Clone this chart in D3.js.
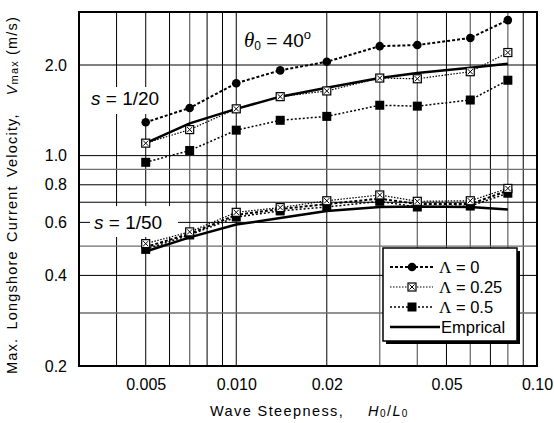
<!DOCTYPE html>
<html>
<head>
<meta charset="utf-8">
<script src="https://cdn.jsdelivr.net/npm/d3@7"></script>
<style>
body { margin: 0; background: #fff; }
svg { display: block; font-family: "Liberation Sans", Arial, sans-serif; }
</style>
</head>
<body>
<svg id="chart" width="554" height="423"></svg>
<script>
// wave steepness H0/L0 of each run
const steepness = [0.005, 0.007, 0.010, 0.014, 0.020, 0.030, 0.040, 0.060, 0.080];

// slope s = 1/20, Vmax (m/s)
const s20Lambda0   = [1.29, 1.44, 1.74, 1.92, 2.05, 2.31, 2.33, 2.46, 2.82];
const s20Lambda025 = [1.10, 1.22, 1.43, 1.57, 1.64, 1.81, 1.80, 1.90, 2.20];
const s20Lambda05  = [0.95, 1.04, 1.215, 1.31, 1.35, 1.47, 1.46, 1.53, 1.78];
const s20Empirical = [1.10, 1.28, 1.43, 1.57, 1.68, 1.81, 1.88, 1.96, 2.02];

// slope s = 1/50, Vmax (m/s)
const s50Lambda0   = [0.497, 0.550, 0.635, 0.665, 0.690, 0.720, 0.690, 0.690, 0.765];
const s50Lambda025 = [0.510, 0.558, 0.648, 0.672, 0.708, 0.740, 0.705, 0.708, 0.778];
const s50Lambda05  = [0.488, 0.545, 0.625, 0.655, 0.675, 0.705, 0.675, 0.680, 0.750];
const s50Empirical = [0.480, 0.535, 0.590, 0.620, 0.655, 0.675, 0.678, 0.675, 0.662];

const xTickValues = [0.005, 0.01, 0.02, 0.05, 0.1];
const xTickLabels = ["0.005", "0.010", "0.02", "0.05", "0.10"];
const yTickValues = [0.2, 0.4, 0.6, 0.8, 1.0, 2.0];
const yTickLabels = ["0.2", "0.4", "0.6", "0.8", "1.0", "2.0"];

// legend entries: [symbol part, rest]
const seriesNames = [["\u039B", " = 0"], ["\u039B", " = 0.25"], ["\u039B", " = 0.5"], ["", "Emprical"]];

const svg = d3.select("#chart");
const margin = { top: 12, right: 17, bottom: 57, left: 79 };
const W = 554, H = 423;

const x = d3.scaleLog().domain([0.003, 0.1]).range([margin.left, W - margin.right]);
const y = d3.scaleLog().domain([0.2, 3.0]).range([H - margin.bottom, margin.top]);

// line styles for each series
const styles = [
    { width: 2,   dash: "3,2",     marker: "circle" },
    { width: 1.2, dash: "1.5,1.5", marker: "cross" },
    { width: 1.5, dash: "2,2",     marker: "square" },
    { width: 2.5, dash: null,      marker: null }
];

// grid lines
const grid = svg.append("g");
const near = (a, b) => Math.abs(a - b) / b < 1e-6;
x.ticks().filter(t => t > 0.0031 && t < 0.099).forEach(t => {
    const gray = steepness.some(s => near(s, t)) && !xTickValues.some(s => near(s, t));
    grid.append("line")
        .attr("x1", x(t)).attr("x2", x(t))
        .attr("y1", y.range()[1]).attr("y2", y.range()[0])
        .attr("stroke", gray ? "#6e6e6e" : "#000")
        .attr("stroke-width", gray ? 1.3 : 1);
});
y.ticks().filter(t => t > 0.21 && t < 2.9).forEach(t => {
    const gray = [0.3, 0.5, 0.9].some(s => near(s, t));
    grid.append("line")
        .attr("x1", x.range()[0]).attr("x2", x.range()[1])
        .attr("y1", y(t)).attr("y2", y(t))
        .attr("stroke", gray ? "#6e6e6e" : "#000")
        .attr("stroke-width", gray ? 1.3 : 1);
});

// axes (labels only, frame drawn below)
const xAxis = svg.append("g")
    .attr("transform", `translate(0, ${y.range()[0]})`)
    .call(d3.axisBottom(x).tickValues(xTickValues).tickSize(0).tickPadding(13)
        .tickFormat((d, i) => xTickLabels[i]));
const yAxis = svg.append("g")
    .attr("transform", `translate(${x.range()[0]}, 0)`)
    .call(d3.axisLeft(y).tickValues(yTickValues).tickSize(0).tickPadding(12)
        .tickFormat((d, i) => yTickLabels[i]));
[xAxis, yAxis].forEach(a => {
    a.select(".domain").remove();
    a.selectAll("text").attr("font-size", 16).attr("fill", "#000")
        .attr("font-family", "'Liberation Sans', Arial, sans-serif");
});

// annotations
svg.append("rect").attr("x", 88).attr("y", 87).attr("width", 78).attr("height", 27).attr("fill", "#fff");
const s20Text = svg.append("text").attr("x", 91).attr("y", 105).attr("font-size", 19);
s20Text.append("tspan").attr("font-style", "italic").text("s");
s20Text.append("tspan").text(" = 1/20");

svg.append("rect").attr("x", 90).attr("y", 206).attr("width", 88).attr("height", 31).attr("fill", "#fff");
const s50Text = svg.append("text").attr("x", 94).attr("y", 229).attr("font-size", 19);
s50Text.append("tspan").attr("font-style", "italic").text("s");
s50Text.append("tspan").text(" = 1/50");

const theta = svg.append("text").attr("x", 244).attr("y", 47).attr("font-size", 19);
theta.append("tspan").attr("font-family", "'Liberation Serif', 'Times New Roman', serif")
    .attr("font-style", "italic").attr("font-size", 21).text("\u03B8");
theta.append("tspan").attr("font-size", 12).attr("dy", 3).text("0");
theta.append("tspan").attr("dy", -3).text(" = 40");
theta.append("tspan").attr("font-size", 13).attr("dy", -8).text("o");

// frame
svg.append("rect")
    .attr("x", x.range()[0]).attr("y", y.range()[1])
    .attr("width", x.range()[1] - x.range()[0])
    .attr("height", y.range()[0] - y.range()[1])
    .attr("fill", "none").attr("stroke", "#000").attr("stroke-width", 2);

function drawMarker(g, type, cx, cy) {
    if (type === "circle") {
        g.append("circle").attr("cx", cx).attr("cy", cy).attr("r", 4.3).attr("fill", "#000");
    } else if (type === "square") {
        g.append("rect").attr("x", cx - 4.5).attr("y", cy - 4.5).attr("width", 9).attr("height", 9).attr("fill", "#000");
    } else if (type === "cross") {
        g.append("rect").attr("x", cx - 4).attr("y", cy - 4).attr("width", 8).attr("height", 8)
            .attr("fill", "#fff").attr("stroke", "#000").attr("stroke-width", 1.2);
        g.append("path").attr("d", `M${cx - 2.6},${cy - 2.6}L${cx + 2.6},${cy + 2.6}M${cx + 2.6},${cy - 2.6}L${cx - 2.6},${cy + 2.6}`)
            .attr("stroke", "#000").attr("stroke-width", 1);
    }
}

const line = d3.line().x(d => x(d[0])).y(d => y(d[1]));

function drawGroup(seriesList) {
    const g = svg.append("g");
    // empirical first, then the dashed ones
    [3, 2, 1, 0].forEach(i => {
        const pts = steepness.map((s, j) => [s, seriesList[i][j]]);
        g.append("path").attr("d", line(pts))
            .attr("fill", "none").attr("stroke", "#000")
            .attr("stroke-width", styles[i].width)
            .attr("stroke-dasharray", styles[i].dash);
    });
    [0, 2, 1].forEach(i => {
        steepness.forEach((s, j) => drawMarker(g, styles[i].marker, x(s), y(seriesList[i][j])));
    });
}

drawGroup([s20Lambda0, s20Lambda025, s20Lambda05, s20Empirical]);
drawGroup([s50Lambda0, s50Lambda025, s50Lambda05, s50Empirical]);

// legend
const legend = svg.append("g").attr("transform", "translate(383, 248)");
legend.append("rect").attr("x", 3).attr("y", 3).attr("width", 134).attr("height", 93).attr("fill", "#000");
legend.append("rect").attr("x", 0).attr("y", 0).attr("width", 134).attr("height", 93)
    .attr("fill", "#fff").attr("stroke", "#000").attr("stroke-width", 1.5);
seriesNames.forEach((name, i) => {
    const ly = 19 + i * 20;
    legend.append("line").attr("x1", 7).attr("x2", i === 3 ? 57 : 50).attr("y1", ly).attr("y2", ly)
        .attr("stroke", "#000").attr("stroke-width", styles[i].width)
        .attr("stroke-dasharray", styles[i].dash);
    if (styles[i].marker) drawMarker(legend, styles[i].marker, 29, ly);
    const t = legend.append("text").attr("x", i === 3 ? 58 : 56).attr("y", ly + 6).attr("font-size", 16.5);
    if (name[0]) t.append("tspan").attr("font-family", "'Liberation Serif', 'Times New Roman', serif")
        .attr("font-size", 17).text(name[0]);
    t.append("tspan").text(name[1]);
});

// axis titles
const xTitle = svg.append("text").attr("x", 210).attr("y", 416)
    .attr("font-size", 14.5).attr("letter-spacing", 1.4);
xTitle.append("tspan").text("Wave Steepness,");
xTitle.append("tspan").attr("dx", 24).attr("font-style", "italic").text("H");
xTitle.append("tspan").attr("font-size", 10).attr("dy", 1).text("0");
xTitle.append("tspan").attr("dy", -1).text("/");
xTitle.append("tspan").attr("font-style", "italic").text("L");
xTitle.append("tspan").attr("font-size", 10).attr("dy", 1).text("0");

const yTitle = svg.append("text").attr("transform", "translate(17, 374) rotate(-90)")
    .attr("font-size", 14.5).attr("letter-spacing", 1.2).attr("word-spacing", 3);
yTitle.append("tspan").text("Max. Longshore Current Velocity,");
yTitle.append("tspan").attr("dx", 18).attr("font-style", "italic").text("V");
yTitle.append("tspan").attr("font-size", 11).attr("dy", 1).text("max");
yTitle.append("tspan").attr("dy", -1).attr("dx", 5).text("(m/s)");
</script>
</body>
</html>
